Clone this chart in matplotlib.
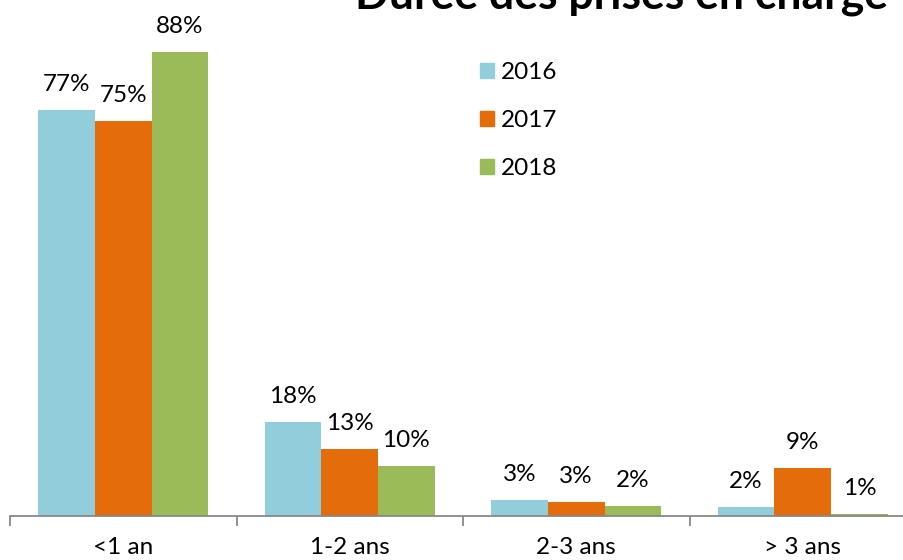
import matplotlib
matplotlib.use("Agg")
import matplotlib.pyplot as plt
from matplotlib.patches import Patch

plt.rcParams['font.family'] = ['Lato', 'DejaVu Sans']

categories = ['<1 an', '1-2 ans', '2-3 ans', '> 3 ans']
years = ['2016', '2017', '2018']
values_2016 = [77, 17.8, 3.0, 1.7]
values_2017 = [75, 12.7, 2.7, 9.1]
values_2018 = [88, 9.5, 1.9, 0.4]
labels_2016 = ['77%', '18%', '3%', '2%']
labels_2017 = ['75%', '13%', '3%', '9%']
labels_2018 = ['88%', '10%', '2%', '1%']
colors = ['#92CDDC', '#E46C0A', '#9BBB59']

fig = plt.figure(figsize=(9.04, 5.6), dpi=100)
ax = fig.add_axes([10 / 904, 44 / 560, 906 / 904, 516 / 560])

series = [values_2016, values_2017, values_2018]
labels = [labels_2016, labels_2017, labels_2018]
width = 0.25
for i, (vals, labs) in enumerate(zip(series, labels)):
    xs = [k + (i - 1) * width for k in range(len(categories))]
    ax.bar(xs, vals, width, color=colors[i], label=years[i])
    for x, v, t in zip(xs, vals, labs):
        ax.annotate(t, (x, v), xytext=(0, 13.5), textcoords='offset points',
                    ha='center', va='baseline', fontsize=17.5)

ax.set_xlim(-0.5, 3.5)
ax.set_ylim(0, 516 / 5.27)
for s in ['top', 'right', 'left']:
    ax.spines[s].set_visible(False)
ax.spines['bottom'].set_color('#888888')
ax.spines['bottom'].set_linewidth(1.3)
ax.set_yticks([])
ax.set_xticks([-0.5, 0.5, 1.5, 2.5, 3.5])
ax.set_xticklabels([])
ax.set_xticks(range(len(categories)), minor=True)
ax.set_xticklabels(categories, minor=True, fontsize=17.5)
ax.tick_params(axis='x', which='major', length=7, width=1.3, color='#888888')
ax.tick_params(axis='x', which='minor', length=0, pad=15)

handles = [Patch(color=c) for c in colors]
fig.legend(handles, years, loc='upper left', bbox_to_anchor=(470 / 904, 1 - 52 / 560),
           frameon=False, fontsize=17.5, handlelength=0.58, handleheight=0.58,
           handletextpad=0.3, labelspacing=1.12, borderaxespad=0)

fig.text(0.982, 1 - 8 / 560, 'Durée des prises en charge', ha='right', va='baseline',
         fontsize=32, fontweight='bold')

fig.savefig('out.png', dpi=100)
